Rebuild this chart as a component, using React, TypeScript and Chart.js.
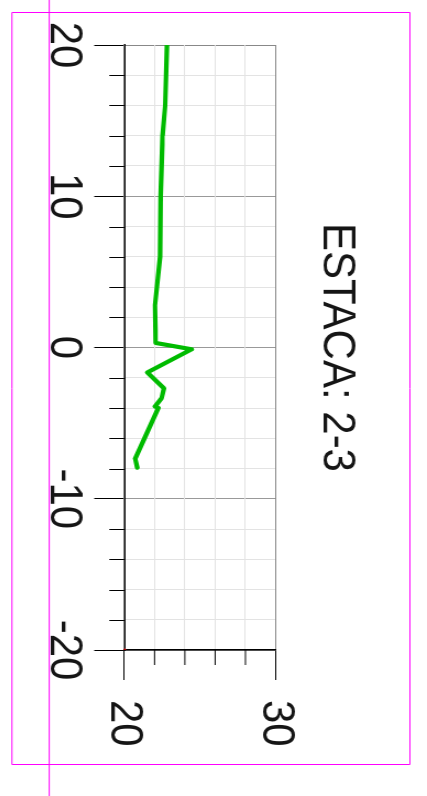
import React, { useEffect, useRef } from 'react';
import { Chart, registerables } from 'chart.js';

Chart.register(...registerables);

// ---- data ----
const titleText = 'ESTACA: 2-3';
const distances = [20, 16, 14, 10, 6, 2.8, 0.3, -0.12, -1.65, -2.7, -3.35, -3.9, -4.0, -7.35, -7.95];
const values = [22.82, 22.7, 22.53, 22.4, 22.36, 22.03, 22.08, 24.45, 21.52, 22.62, 22.47, 22.03, 22.25, 20.72, 20.86];
const markerDistances = [-20];
const markerValues = [20];
const xMin = -20;
const xMax = 20;
const xStep = 2;
const xLabelStep = 10;
const yMin = 20;
const yMax = 30;
const yStep = 2;
const yLabelStep = 10;

const FONT = 'Liberation Sans, Arial, Helvetica, sans-serif';
const TEXT = '#151515';

const decorPlugin = {
  id: 'decor',
  afterDraw(chart: any) {
    const { ctx, chartArea, scales } = chart;
    ctx.save();
    ctx.strokeStyle = '#000';
    ctx.lineWidth = 1;
    const xs = scales.x;
    xs.ticks.forEach((t: any) => {
      if (t.value % xLabelStep !== 0) {
        const p = Math.round(xs.getPixelForValue(t.value)) + 0.5;
        ctx.beginPath();
        ctx.moveTo(p, chartArea.bottom);
        ctx.lineTo(p, chartArea.bottom + 13.6);
        ctx.stroke();
      }
    });
    const ys = scales.y;
    ys.ticks.forEach((t: any) => {
      if (t.value % yLabelStep !== 0) {
        const p = ys.getPixelForValue(t.value);
        ctx.beginPath();
        ctx.moveTo(chartArea.right, p);
        ctx.lineTo(chartArea.right + 15, p);
        ctx.stroke();
      }
    });
    // magenta frame lines
    ctx.strokeStyle = '#ff00ff';
    ctx.lineWidth = 1;
    ctx.beginPath();
    ctx.moveTo(12.5, 15.5);
    ctx.lineTo(764.5, 15.5);
    ctx.lineTo(764.5, 377.3);
    ctx.lineTo(12.5, 377.3);
    ctx.closePath();
    ctx.stroke();
    ctx.beginPath();
    ctx.moveTo(0, 343.4);
    ctx.lineTo(796, 343.4);
    ctx.stroke();
    ctx.restore();
  },
};

export default function App() {
  const ref = useRef<HTMLCanvasElement | null>(null);
  useEffect(() => {
    if (!ref.current) return;
    const chart = new Chart(ref.current, {
      type: 'line',
      data: {
        datasets: [
          {
            data: distances.map((d, i) => ({ x: d, y: values[i] })),
            borderColor: '#00bb00',
            backgroundColor: '#00bb00',
            borderWidth: 4.2,
            pointRadius: 0,
            tension: 0,
            fill: false,
            borderJoinStyle: 'round',
            borderCapStyle: 'round',
          },
          {
            data: markerDistances.map((d, i) => ({ x: d, y: markerValues[i] })),
            borderColor: '#ff0000',
            backgroundColor: '#ff0000',
            pointRadius: 1.2,
            showLine: false,
          } as any,
        ],
      },
      options: {
        animation: false,
        responsive: false,
        devicePixelRatio: 1,
        layout: { padding: { left: 45, top: 0, right: 0, bottom: 0 } },
        plugins: {
          legend: { display: false },
          tooltip: { enabled: false },
          title: {
            display: true,
            fullSize: false,
            text: titleText,
            color: TEXT,
            font: { family: FONT, size: 42, weight: 'normal', lineHeight: 1.2 },
            padding: { top: 57.5, bottom: 29.6 },
          },
        },
        scales: {
          x: {
            type: 'linear',
            position: 'bottom',
            reverse: true,
            min: xMin,
            max: xMax,
            afterFit: (s: any) => {
              s.height = 112.8;
            },
            ticks: {
              stepSize: xStep,
              autoSkip: false,
              maxRotation: 0,
              minRotation: 0,
              padding: 2.8,
              color: TEXT,
              font: { family: FONT, size: 42 },
              callback: (v: any) => (Number(v) % xLabelStep === 0 ? String(v) : ''),
            },
            grid: {
              lineWidth: 1,
              tickLength: 27.3,
              color: (c: any) => {
                const v = c.tick?.value;
                if (v === xMax) return '#888888';
                if (v % xLabelStep === 0) return '#999999';
                return '#e3e3e3';
              },
              tickColor: (c: any) => (c.tick && c.tick.value % xLabelStep === 0 ? '#000' : 'rgba(0,0,0,0)'),
            },
            border: { color: '#000', width: 1.5 },
          },
          y: {
            type: 'linear',
            position: 'right',
            min: yMin,
            max: yMax,
            afterFit: (s: any) => {
              s.width = 146;
            },
            ticks: {
              stepSize: yStep,
              autoSkip: false,
              padding: 20,
              color: TEXT,
              font: { family: FONT, size: 42 },
              callback: (v: any) => (Number(v) % yLabelStep === 0 ? String(v) : ''),
            },
            grid: {
              lineWidth: 1,
              tickLength: 30,
              color: (c: any) => {
                const v = c.tick?.value;
                if (v === yMax) return '#888888';
                return '#e3e3e3';
              },
              tickColor: (c: any) => (c.tick && c.tick.value % yLabelStep === 0 ? '#000' : 'rgba(0,0,0,0)'),
            },
            border: { color: '#000', width: 1.5 },
          },
        },
      } as any,
      plugins: [decorPlugin],
    });
    return () => chart.destroy();
  }, []);

  return (
    <canvas
      ref={ref}
      width={796}
      height={388}
      style={{
        position: 'fixed',
        left: 0,
        top: 0,
        width: '796px',
        height: '388px',
        transformOrigin: '0 0',
        transform: 'translate(427px, 0px) rotate(90deg) scale(1, 1.1)',
      }}
    />
  );
}
